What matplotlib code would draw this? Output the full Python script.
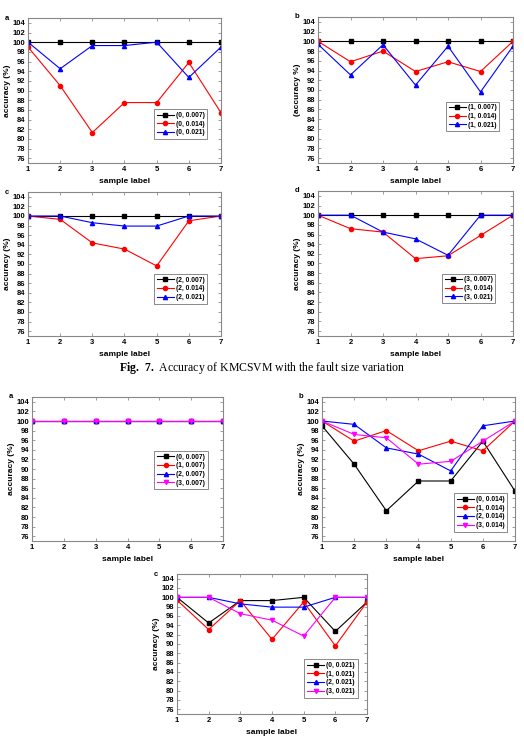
import numpy as np
import matplotlib.pyplot as plt

plt.rcParams['font.family'] = ['Liberation Sans', 'DejaVu Sans']
plt.rcParams['font.weight'] = 'bold'
plt.rcParams['mathtext.fontset'] = 'custom'
plt.rcParams['mathtext.rm'] = 'Liberation Serif'
plt.rcParams['mathtext.bf'] = 'Liberation Serif:bold'

samples = [1, 2, 3, 4, 5, 6, 7]

# accuracy (%) per load (0..3) and fault size
load0_007 = [100, 100, 100, 100, 100, 100, 100]
load0_014 = [99.0, 91.0, 81.3, 87.5, 87.5, 95.8, 85.4]
load0_021 = [100, 94.5, 99.3, 99.3, 100, 92.7, 99.0]

load1_007 = [100, 100, 100, 100, 100, 100, 100]
load1_014 = [100, 95.8, 98.0, 93.8, 95.8, 93.8, 100]
load1_021 = [99.4, 93.1, 99.3, 91.0, 99.0, 89.6, 99.0]

load2_007 = [100, 100, 100, 100, 100, 100, 100]
load2_014 = [100, 99.3, 94.4, 93.1, 89.6, 99.0, 100]
load2_021 = [100, 100, 98.6, 97.9, 97.9, 100, 100]

load3_007 = [100, 100, 100, 100, 100, 100, 100]
load3_014 = [100, 97.2, 96.5, 91.0, 91.6, 95.8, 100]
load3_021 = [100, 100, 96.5, 95.1, 91.7, 100, 100]

yticks = list(range(76, 105, 2))

W, H = 524, 737
fig = plt.figure(figsize=(W / 100, H / 100), dpi=100)

styles = [('black', 's'), ('red', 'o'), ('blue', '^'), ('magenta', 'v')]


def panel(box, series, labels, letter, leg_anchor, ylabel='accuracy (%)'):
    x0, y0, x1, y1 = box
    ax = fig.add_axes([x0 / W, 1 - y1 / H, (x1 - x0) / W, (y1 - y0) / H])
    for i, (vals, lab) in enumerate(zip(series, labels)):
        c, m = styles[i]
        ax.plot(samples, vals, color=c, marker=m, markersize=3, lw=0.8, label=lab)
    ax.set_xlim(1, 7)
    ax.set_ylim(75, 105)
    ax.set_xticks(samples)
    ax.set_yticks(yticks)
    ax.tick_params(direction='in', top=True, right=True, labelsize=5.5,
                   length=2, width=0.5, pad=2, color='#777777')
    for lbl in ax.get_xticklabels() + ax.get_yticklabels():
        lbl.set_fontweight('bold')
    for s in ax.spines.values():
        s.set_color('#888888')
        s.set_linewidth(0.8)
    ax.set_xlabel('sample label', fontsize=6, fontweight='bold', labelpad=4)
    ax.set_ylabel(ylabel, fontsize=6, fontweight='bold', labelpad=1)
    ax.text(-0.12, 1.0, letter, transform=ax.transAxes, fontsize=5.5,
            fontweight='bold', ha='left', va='center')
    leg = ax.legend(loc='upper right', bbox_to_anchor=leg_anchor, fontsize=4.8,
                    frameon=True, fancybox=False, edgecolor='#555555',
                    handlelength=2.6, handletextpad=0.3, borderpad=0.4,
                    labelspacing=0.25, borderaxespad=0)
    leg.get_frame().set_linewidth(0.6)
    for t in leg.get_texts():
        t.set_fontweight('bold')
    return ax


# Fig. 7
panel((28, 18, 221, 163), [load0_007, load0_014, load0_021],
      ['(0, 0.007)', '(0, 0.014)', '(0, 0.021)'], 'a', (0.93, 0.37))
panel((318, 17, 513, 163), [load1_007, load1_014, load1_021],
      ['(1, 0.007)', '(1, 0.014)', '(1, 0.021)'], 'b', (0.93, 0.42),
      ylabel='(accuracy %)')
panel((28, 192, 221, 336), [load2_007, load2_014, load2_021],
      ['(2, 0.007)', '(2, 0.014)', '(2, 0.021)'], 'c', (0.93, 0.43))
panel((318, 191, 513, 336), [load3_007, load3_014, load3_021],
      ['(3, 0.007)', '(3, 0.014)', '(3, 0.021)'], 'd', (0.91, 0.43))

fig.text(0.5, 1 - 368 / H,
         r'$\mathbf{Fig.\ 7.}$ Accuracy of KMCSVM with the fault size variation',
         ha='center', va='center', fontsize=8.5, fontweight='normal',
         family='Liberation Serif')

# second figure
panel((32, 397, 223, 541), [load0_007, load1_007, load2_007, load3_007],
      ['(0, 0.007)', '(1, 0.007)', '(2, 0.007)', '(3, 0.007)'], 'a', (0.92, 0.625))
panel((322, 397, 515, 541), [load0_014, load1_014, load2_014, load3_014],
      ['(0, 0.014)', '(1, 0.014)', '(2, 0.014)', '(3, 0.014)'], 'b', (0.96, 0.33))
panel((177, 574, 367, 714), [load0_021, load1_021, load2_021, load3_021],
      ['(0, 0.021)', '(1, 0.021)', '(2, 0.021)', '(3, 0.021)'], 'c', (0.95, 0.39))

plt.savefig('out.png', dpi=100)
